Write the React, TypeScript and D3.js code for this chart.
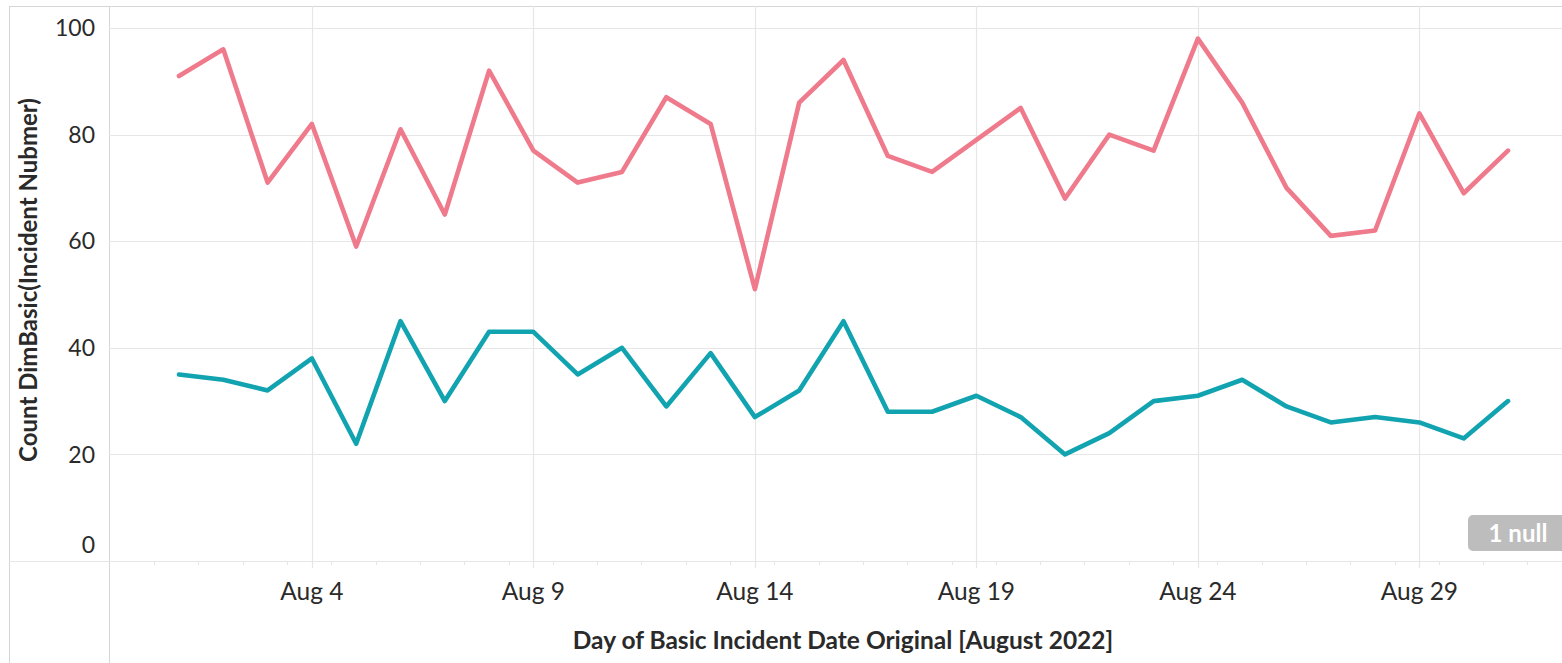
import React from 'react';
import * as d3 from 'd3';

// day of month, August 2022
const days = d3.range(1, 32);
const seriesA = [91, 96, 71, 82, 59, 81, 65, 92, 77, 71, 73, 87, 82, 51, 86, 94, 76, 73, 79, 85, 68, 80, 77, 98, 86, 70, 61, 62, 84, 69, 77];
const seriesB = [35, 34, 32, 38, 22, 45, 30, 43, 43, 35, 40, 29, 39, 27, 32, 45, 28, 28, 31, 27, 20, 24, 30, 31, 34, 29, 26, 27, 26, 23, 30];
const xTickDays = [4, 9, 14, 19, 24, 29];
const yTicks = [0, 20, 40, 60, 80, 100];
const yTitle = 'Count DimBasic(Incident Nubmer)';
const xTitle = 'Day of Basic Incident Date Original [August 2022]';
const nullLabel = '1 null';

const W = 1562;
const H = 663;
const frameLeft = 9;
const frameTop = 6;
const paneX = 109;
const axisY = 561;

const FONT = 'Lato, "Open Sans", sans-serif';
const GRID = '#e6e6e6';
const FRAME = '#d6d6d6';
const TEXT = '#2a2a2a';
const PINK = '#ef7a8c';
const TEAL = '#12a3b0';

export default function App() {
  const x = d3.scaleLinear().domain([1, 31]).range([179, 1508]);
  const y = d3.scaleLinear().domain([0, 100]).range([axisY, 28]);

  const line = d3.line<number>().x((_, i) => x(days[i])).y(v => y(v));
  const minorTicks = d3.range(0, 32).map(d => d + 0.44).filter(d => x(d) > paneX && x(d) < W);

  return (
    <svg width={W} height={H} style={{ position: 'absolute', left: 0, top: 0, background: '#fff' }}
      fontFamily={FONT}>
      {/* frame */}
      <line x1={frameLeft + 0.5} x2={frameLeft + 0.5} y1={frameTop} y2={H} stroke={FRAME} />
      <line x1={frameLeft} x2={W} y1={frameTop + 0.5} y2={frameTop + 0.5} stroke={FRAME} />
      <line x1={paneX + 0.5} x2={paneX + 0.5} y1={frameTop} y2={H} stroke={FRAME} />

      {/* horizontal grid */}
      {yTicks.filter(t => t > 0).map(t => (
        <line key={t} x1={paneX} x2={W} y1={Math.round(y(t)) + 0.5} y2={Math.round(y(t)) + 0.5} stroke={GRID} strokeWidth={1.2} />
      ))}
      {/* vertical grid */}
      {xTickDays.map(d => (
        <line key={d} x1={Math.round(x(d)) + 0.5} x2={Math.round(x(d)) + 0.5} y1={frameTop} y2={axisY + 7} stroke={GRID} strokeWidth={1.2} />
      ))}
      <line x1={frameLeft} x2={W} y1={axisY + 0.5} y2={axisY + 0.5} stroke={GRID} strokeWidth={1.2} />
      {minorTicks.map(d => (
        <line key={d} x1={Math.round(x(d)) + 0.5} x2={Math.round(x(d)) + 0.5} y1={axisY} y2={axisY + 4} stroke={GRID} />
      ))}

      {/* y tick labels */}
      {yTicks.map(t => (
        <text key={t} x={95} y={Math.min(y(t), 545)} dy="0.36em" textAnchor="end" fontSize={23} fill={TEXT}>{t}</text>
      ))}
      {/* x tick labels */}
      {xTickDays.map(d => (
        <text key={d} x={x(d)} y={591} dy="0.36em" textAnchor="middle" fontSize={24.5} fill={TEXT}>Aug {d}</text>
      ))}

      {/* titles */}
      <text transform={`translate(28,280) rotate(-90)`} dy="0.36em" textAnchor="middle" fontSize={24} fontWeight="bold" fill={TEXT}>{yTitle}</text>
      <text x={843} y={640} dy="0.36em" textAnchor="middle" fontSize={24.5} fontWeight="bold" fill={TEXT}>{xTitle}</text>

      {/* lines */}
      <path d={line(seriesA) || ''} fill="none" stroke={PINK} strokeWidth={4.6} strokeLinejoin="round" strokeLinecap="round" />
      <path d={line(seriesB) || ''} fill="none" stroke={TEAL} strokeWidth={4.6} strokeLinejoin="round" strokeLinecap="round" />

      {/* null indicator */}
      <rect x={1468} y={515} width={110} height={36} rx={5} fill="#bdbdbd" />
      <text x={1518} y={533} dy="0.36em" textAnchor="middle" fontSize={24} fontWeight="bold" fill="#fff">{nullLabel}</text>
    </svg>
  );
}
